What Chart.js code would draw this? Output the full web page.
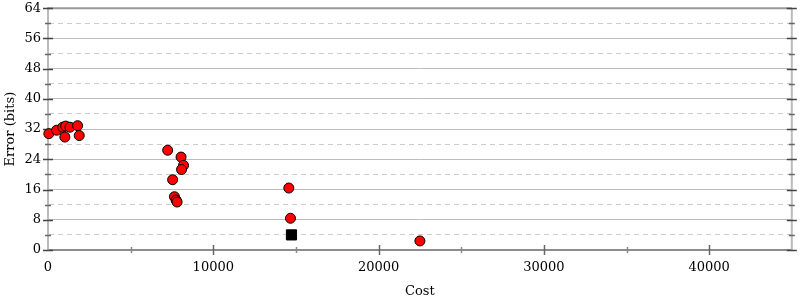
<!DOCTYPE html>
<html><head><meta charset="utf-8">
<script src="https://cdn.jsdelivr.net/npm/chart.js@4"></script>
<style>html,body{margin:0;padding:0;background:#fff}</style>
</head><body>
<canvas id="c" width="800" height="300"></canvas>
<script>
// Red circle points: cost, error (bits)
const costs  = [50, 520, 890, 1070, 1020, 1330, 1790, 1890, 7240, 8050, 8200, 8080, 7540, 7650, 7750, 7810, 14570, 14670, 22500];
const errors = [30.8, 31.7, 32.5, 32.8, 29.9, 32.5, 32.9, 30.3, 26.4, 24.6, 22.4, 21.3, 18.6, 14.1, 13.2, 12.7, 16.4, 8.4, 2.4];
// Black square point
const bestCost  = [14730];
const bestError = [4.0];
// Axis ranges / ticks
const xMin = 0, xMax = 45000, xStep = 5000, xLabelEvery = 10000;
const yMin = 0, yMax = 64, yStep = 4, yLabelEvery = 8;
const xTitle = 'Cost';
const yTitle = 'Error (bits)';

const FONT = {family: 'DejaVu Serif', size: 13};

const framePlugin = {
  id: 'frame',
  beforeDatasetsDraw(chart) {
    const {ctx, chartArea: a, scales: {x, y}} = chart;
    ctx.save();
    // top border
    ctx.strokeStyle = '#999999'; ctx.lineWidth = 2;
    ctx.beginPath(); ctx.moveTo(a.left, a.top); ctx.lineTo(a.right, a.top); ctx.stroke();
    // right border
    ctx.strokeStyle = '#bbbbbb'; ctx.lineWidth = 2;
    ctx.beginPath(); ctx.moveTo(a.right, a.top); ctx.lineTo(a.right, a.bottom); ctx.stroke();
    // y ticks (left and right)
    ctx.lineWidth = 1.5;
    y.ticks.forEach(t => {
      const py = Math.round(y.getPixelForValue(t.value)) + 0.5;
      const major = t.value % yLabelEvery === 0;
      const len = major ? 5 : 3;
      ctx.strokeStyle = major ? '#444444' : '#666666';
      ctx.beginPath();
      ctx.moveTo(a.left - len, py); ctx.lineTo(a.left + len, py);
      ctx.moveTo(a.right - len, py); ctx.lineTo(a.right + len, py);
      ctx.stroke();
    });
    // x ticks
    x.ticks.forEach(t => {
      if (t.value === xMin || t.value === xMax) return;
      const px = Math.round(x.getPixelForValue(t.value)) + 0.5;
      const major = t.value % xLabelEvery === 0;
      const len = major ? 5 : 3;
      ctx.strokeStyle = major ? '#666666' : '#888888';
      ctx.beginPath();
      ctx.moveTo(px, a.bottom - len); ctx.lineTo(px, a.bottom + len);
      ctx.stroke();
    });
    ctx.restore();
  }
};

new Chart(document.getElementById('c'), {
  type: 'scatter',
  data: {
    datasets: [
      {
        data: costs.map((c, i) => ({x: c, y: errors[i]})),
        backgroundColor: '#ff0000', borderColor: '#000000', borderWidth: 1,
        pointRadius: 5, pointHoverRadius: 5, clip: false
      },
      {
        data: bestCost.map((c, i) => ({x: c, y: bestError[i]})),
        pointStyle: 'rect', backgroundColor: '#000000', borderColor: '#000000', borderWidth: 1,
        pointRadius: 7.2, pointHoverRadius: 7.2, clip: false
      }
    ]
  },
  options: {
    responsive: false, animation: false,
    layout: {padding: {top: 8, right: 5, left: 0, bottom: 0}},
    plugins: {legend: {display: false}, tooltip: {enabled: false}},
    scales: {
      x: {
        type: 'linear', min: xMin, max: xMax,
        afterFit(s) { s.height = 50; s.paddingLeft = 0; s.paddingRight = 0; },
        ticks: {
          stepSize: xStep, autoSkip: false, maxRotation: 0, minRotation: 0,
          padding: 10, color: '#000', font: FONT,
          callback: v => (v % xLabelEvery === 0 && v < xMax) ? String(v) : ''
        },
        grid: {display: true, drawOnChartArea: false, drawTicks: false},
        border: {display: true, color: '#8c8c8c', width: 2},
        title: {display: true, text: xTitle, color: '#000', font: FONT, padding: {top: 0, bottom: 1}}
      },
      y: {
        type: 'linear', min: yMin, max: yMax,
        afterFit(s) { s.width = 48; s.paddingTop = 0; s.paddingBottom = 0; },
        ticks: {
          stepSize: yStep, autoSkip: false, padding: 7, color: '#000', font: FONT,
          callback: v => (v % yLabelEvery === 0) ? String(v) : ''
        },
        grid: {
          drawTicks: false,
          color: c => {
            const v = c.tick ? c.tick.value : 0;
            if (v === yMin || v === yMax) return 'rgba(0,0,0,0)';
            return v % yLabelEvery === 0 ? '#bdbdbd' : '#cccccc';
          },
          lineWidth: 1
        },
        border: {
          display: true, color: '#bbbbbb', width: 2,
          dash: c => (c.tick && c.tick.value % yLabelEvery !== 0) ? [5, 4] : []
        },
        title: {display: true, text: yTitle, color: '#000', font: FONT, padding: {top: 2.5, bottom: 0}}
      }
    }
  },
  plugins: [framePlugin]
});
</script>
</body></html>
